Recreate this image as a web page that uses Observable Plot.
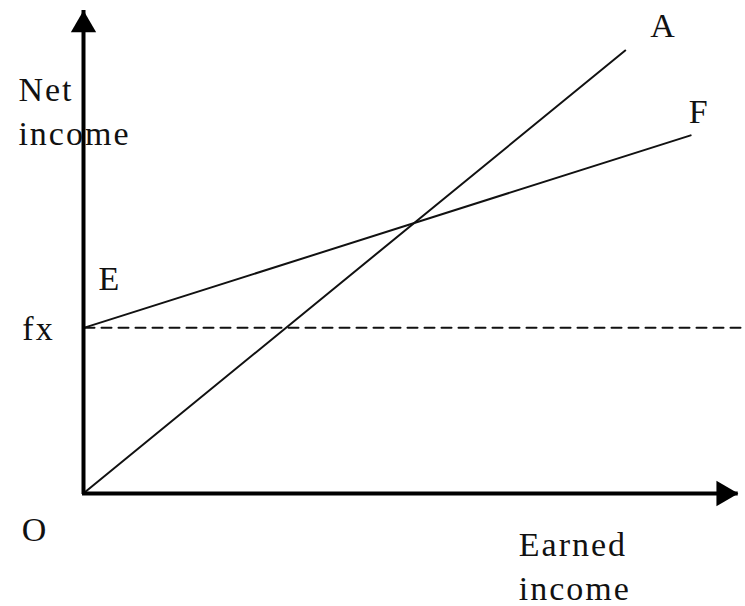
<!DOCTYPE html>
<html>
<head>
<meta charset="utf-8">
<script src="https://cdn.jsdelivr.net/npm/d3@7"></script>
<script src="https://cdn.jsdelivr.net/npm/@observablehq/plot@0.6"></script>
<style>
  html, body { margin: 0; padding: 0; background: #fff; }
  #chart svg { display: block; }
</style>
</head>
<body>
<div id="chart"></div>
<script>
// Conceptual diagram values (arbitrary units, 0–100 on both axes)
const lineOA_earned = [0, 81.8];
const lineOA_net = [0, 91.7];
const lineEF_earned = [0, 91.7];
const lineEF_net = [34.2, 74.1];
const fxLevel = 34.2;
const fxEarned = [0, 100];
const axisTopNet = 100;
const axisRightEarned = 98.9;

const labelText = ["Net\nincome", "E", "fx", "O", "A", "F", "Earned\nincome"];
const labelEarned = [-10, 2.1, -9.4, -9.5, 85.6, 91.4, 65.7];
const labelNet = [72.0, 42.1, 31.7, -10, 94.6, 76.6, -22.4];

const oa = lineOA_earned.map((x, i) => ({x, y: lineOA_net[i]}));
const ef = lineEF_earned.map((x, i) => ({x, y: lineEF_net[i]}));
const fx = fxEarned.map(x => ({x, y: fxLevel}));
const labels = labelText.map((t, i) => ({t, x: labelEarned[i], y: labelNet[i]}));

const ink = "#111";

const chart = Plot.plot({
  width: 745,
  height: 606,
  marginLeft: 84,
  marginRight: 0,
  marginTop: 10,
  marginBottom: 114,
  x: {domain: [0, 100], axis: null},
  y: {domain: [0, 100], axis: null},
  style: {fontFamily: "'Liberation Serif', 'Times New Roman', serif", letterSpacing: "2px", background: "#fff"},
  marks: [
    // dashed fx level
    Plot.line(fx, {x: "x", y: "y", stroke: ink, strokeWidth: 2, strokeDasharray: "10,7"}),
    // lines OA and EF
    Plot.line(oa, {x: "x", y: "y", stroke: ink, strokeWidth: 2}),
    Plot.line(ef, {x: "x", y: "y", stroke: ink, strokeWidth: 2}),
    // axes
    Plot.ruleX([0], {y1: -0.4, y2: axisTopNet, stroke: "#000", strokeWidth: 4, dx: -1}),
    Plot.ruleY([0], {x1: -0.3, x2: axisRightEarned, stroke: "#000", strokeWidth: 4, dy: 1}),
    // arrowheads
    Plot.dot([{x: 0, y: axisTopNet}], {x: "x", y: "y", symbol: "triangle", r: 9.4, fill: "#000", stroke: "none", dy: 14.5, dx: -1}),
    Plot.dot([{x: axisRightEarned, y: 0}], {x: "x", y: "y", symbol: "triangle", r: 9.4, fill: "#000", stroke: "none", rotate: 90, dx: -14.5, dy: 1}),
    // labels
    Plot.text(labels, {x: "x", y: "y", text: "t", textAnchor: "start", lineAnchor: "bottom", lineHeight: 1.3, fontSize: 34, fill: ink})
  ]
});
document.getElementById("chart").appendChild(chart);
</script>
</body>
</html>
